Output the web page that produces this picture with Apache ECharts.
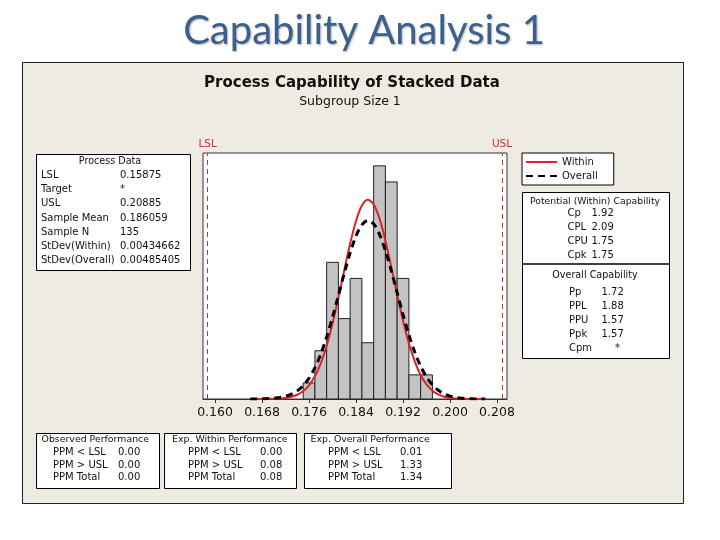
<!DOCTYPE html>
<html><head><meta charset="utf-8">
<script src="https://cdn.jsdelivr.net/npm/echarts@6/dist/echarts.min.js"></script>
<style>html,body{margin:0;padding:0;background:#fff}#c{width:720px;height:540px}</style>
</head><body><div id="c"></div>
<script>
// ---- data ----
const binCenters = [0.176,0.178,0.180,0.182,0.184,0.186,0.188,0.190,0.192,0.194,0.196];
const binCounts  = [2,6,17,10,15,7,29,27,15,3,3];
const binWidth = 0.002;
const curveX = [0.166,0.167,0.168,0.169,0.170,0.171,0.172,0.173,0.174,0.175,0.176,0.177,0.178,0.179,0.180,0.181,0.182,0.183,0.184,0.185,0.186,0.187,0.188,0.189,0.190,0.191,0.192,0.193,0.194,0.195,0.196,0.197,0.198,0.199,0.200,0.201,0.202,0.203,0.204,0.205,0.206];
const withinFit = [0.00,0.00,0.00,0.01,0.03,0.06,0.13,0.27,0.53,0.97,1.70,2.83,4.44,6.63,9.38,12.59,16.02,19.34,22.15,24.06,24.78,24.21,22.43,19.71,16.43,12.99,9.74,6.92,4.67,2.99,1.81,1.04,0.57,0.29,0.14,0.07,0.03,0.01,0.00,0.00,0.00];
const overallFit = [0.00,0.01,0.02,0.05,0.09,0.18,0.33,0.60,1.01,1.66,2.59,3.89,5.59,7.71,10.18,12.89,15.64,18.19,20.28,21.67,22.19,21.78,20.49,18.47,15.96,13.22,10.49,7.98,5.82,4.07,2.73,1.75,1.08,0.64,0.36,0.19,0.10,0.05,0.02,0.01,0.00];
const LSL = 0.15875, USL = 0.20885;
const tickValues = [0.160,0.168,0.176,0.184,0.192,0.200,0.208];
const seriesNames = ['Within','Overall'];
const processDataLabels = ['LSL','Target','USL','Sample Mean','Sample N','StDev(Within)','StDev(Overall)'];
const processDataValues = ['0.15875','*','0.20885','0.186059','135','0.00434662','0.00485405'];
const withinCapLabels = ['Cp','CPL','CPU','Cpk'];
const withinCapValues = ['1.92','2.09','1.75','1.75'];
const overallCapLabels = ['Pp','PPL','PPU','Ppk','Cpm'];
const overallCapValues = ['1.72','1.88','1.57','1.57','*'];
const perfLabels = ['PPM < LSL','PPM > USL','PPM Total'];
const observedPerf = ['0.00','0.00','0.00'];
const expWithinPerf = ['0.00','0.08','0.08'];
const expOverallPerf = ['0.01','1.33','1.34'];

// ---- helpers ----
const F = '"DejaVu Sans", sans-serif';
function txt(s, x, y, opt) {
  opt = opt || {};
  return {type:'text', x:x, y:y, z:10, silent:true,
    style:{text:s, fontFamily:opt.family||F, fontSize:opt.size||10, fontWeight:opt.weight||'normal',
      fill:opt.fill||'#111', align:opt.align||'left', verticalAlign:'middle',
      textShadowColor:opt.shadow||'transparent', textShadowBlur:opt.shadow?2:0,
      textShadowOffsetX:opt.shadow?1:0, textShadowOffsetY:opt.shadow?1:0}};
}
function box(x, y, w, h) {
  return {type:'rect', z:5, silent:true, shape:{x:x, y:y, width:w, height:h},
    style:{fill:'#fff', stroke:'#000', lineWidth:1}};
}
const G = [];
// slide title
G.push(txt('Capability Analysis 1', 364, 31, {family:'Lato, sans-serif', size:40, fill:'#3B5F8E', align:'center', shadow:'rgba(0,0,0,0.3)'}));
// frame
G.push({type:'rect', z:-100, silent:true, shape:{x:22.5, y:62.5, width:661, height:441}, style:{fill:'#EEEBE3', stroke:'#222', lineWidth:1}});
// chart titles
G.push(txt('Process Capability of Stacked Data', 352, 83, {size:15, weight:'bold', align:'center'}));
G.push(txt('Subgroup Size 1', 350, 102, {size:12.5, align:'center'}));
// process data box
G.push(box(36.5, 154.5, 154, 116));
G.push(txt('Process Data', 110, 161, {align:'center', size:9.6}));
processDataLabels.forEach((l, i) => {
  const y = 175.5 + i * 14.2;
  G.push(txt(l, 41, y));
  G.push(txt(processDataValues[i], 120, y));
});
// capability box
G.push(box(522.5, 192.5, 147, 166));
G.push({type:'line', z:6, silent:true, shape:{x1:522, y1:264, x2:669, y2:264}, style:{stroke:'#000', lineWidth:1.5}});
G.push(txt('Potential (Within) Capability', 595, 201.5, {align:'center', size:9.3}));
withinCapLabels.forEach((l, i) => {
  const y = 213 + i * 14.1;
  G.push(txt(l, 567.5, y));
  G.push(txt(withinCapValues[i], 591.5, y));
});
G.push(txt('Overall Capability', 595, 275, {align:'center', size:9.6}));
overallCapLabels.forEach((l, i) => {
  const y = 292 + i * 14;
  G.push(txt(l, 569, y));
  const v = overallCapValues[i];
  G.push(txt(v, v === '*' ? 615 : 601.5, y));
});
// performance boxes
const perfBoxes = [
  {x:36.5, w:123, title:'Observed Performance', tx:41.5, lx:53, vx:118, vals:observedPerf},
  {x:164.5, w:132, title:'Exp. Within Performance', tx:172, lx:188, vx:260, vals:expWithinPerf},
  {x:304.5, w:147, title:'Exp. Overall Performance', tx:310.5, lx:328, vx:400, vals:expOverallPerf}
];
perfBoxes.forEach(b => {
  G.push(box(b.x, 433.5, b.w, 55));
  G.push(txt(b.title, b.tx, 439.5, {size:9.4}));
  perfLabels.forEach((l, i) => {
    const y = 452.7 + i * 12.3;
    G.push(txt(l, b.lx, y));
    G.push(txt(b.vals[i], b.vx, y));
  });
});

const chart = echarts.init(document.getElementById('c'));
chart.setOption({
  animation: false,
  backgroundColor: '#fff',
  graphic: G,
  legend: {
    orient: 'vertical', left: 522, top: 153,
    backgroundColor: '#fff', borderColor: '#000', borderWidth: 1,
    padding: [4, 16, 4, 3], itemGap: 4, itemWidth: 31, itemHeight: 10,
    itemStyle: {opacity: 0},
    textStyle: {fontFamily: F, fontSize: 10, color: '#111'},
    data: seriesNames
  },
  grid: {left: 203, top: 153, width: 304, height: 246, show: true,
    backgroundColor: '#fff', borderColor: '#333', borderWidth: 1},
  xAxis: {
    type: 'value', min: 0.15795, max: 0.2097,
    axisLine: {show: true, lineStyle: {color: '#333'}},
    axisTick: {show: true, length: 4, customValues: tickValues, lineStyle: {color: '#333'}},
    axisLabel: {customValues: tickValues, formatter: v => v.toFixed(3), fontFamily: F, fontSize: 12.5, color: '#111', margin: 7},
    splitLine: {show: false}
  },
  yAxis: {type: 'value', min: 0, max: 30.6, show: false, splitLine: {show: false}},
  series: [
    {
      type: 'custom', name: 'Histogram', z: 1,
      data: binCenters.map((c, i) => [c, binCounts[i]]),
      encode: {x: 0, y: 1},
      renderItem: function (params, api) {
        const c = api.value(0), n = api.value(1);
        const p0 = api.coord([c - binWidth / 2, n]);
        const p1 = api.coord([c + binWidth / 2, 0]);
        return {type: 'rect', shape: {x: p0[0], y: p0[1], width: p1[0] - p0[0], height: p1[1] - p0[1]},
          style: {fill: '#C3C3C3', stroke: '#222', lineWidth: 1}};
      }
    },
    {
      type: 'line', name: seriesNames[0], z: 3, symbol: 'none', smooth: 0.3,
      data: curveX.map((x, i) => [x, withinFit[i]]),
      lineStyle: {color: '#E0202A', width: 2},
      itemStyle: {color: '#E0202A'},
      markLine: {
        silent: true, symbol: 'none', precision: 5,
        lineStyle: {color: '#C83232', type: [5, 4], width: 1},
        label: {show: true, position: 'end', formatter: '{b}', color: '#C83232', fontFamily: F, fontSize: 10.5, distance: 3},
        data: [{name: 'LSL', xAxis: LSL}, {name: 'USL', xAxis: USL}]
      }
    },
    {
      type: 'line', name: seriesNames[1], z: 4, symbol: 'none', smooth: 0.3,
      data: curveX.map((x, i) => [x, overallFit[i]]),
      lineStyle: {color: '#000', width: 3, type: [7, 5]},
      itemStyle: {color: '#000'}
    }
  ]
});
</script></body></html>
